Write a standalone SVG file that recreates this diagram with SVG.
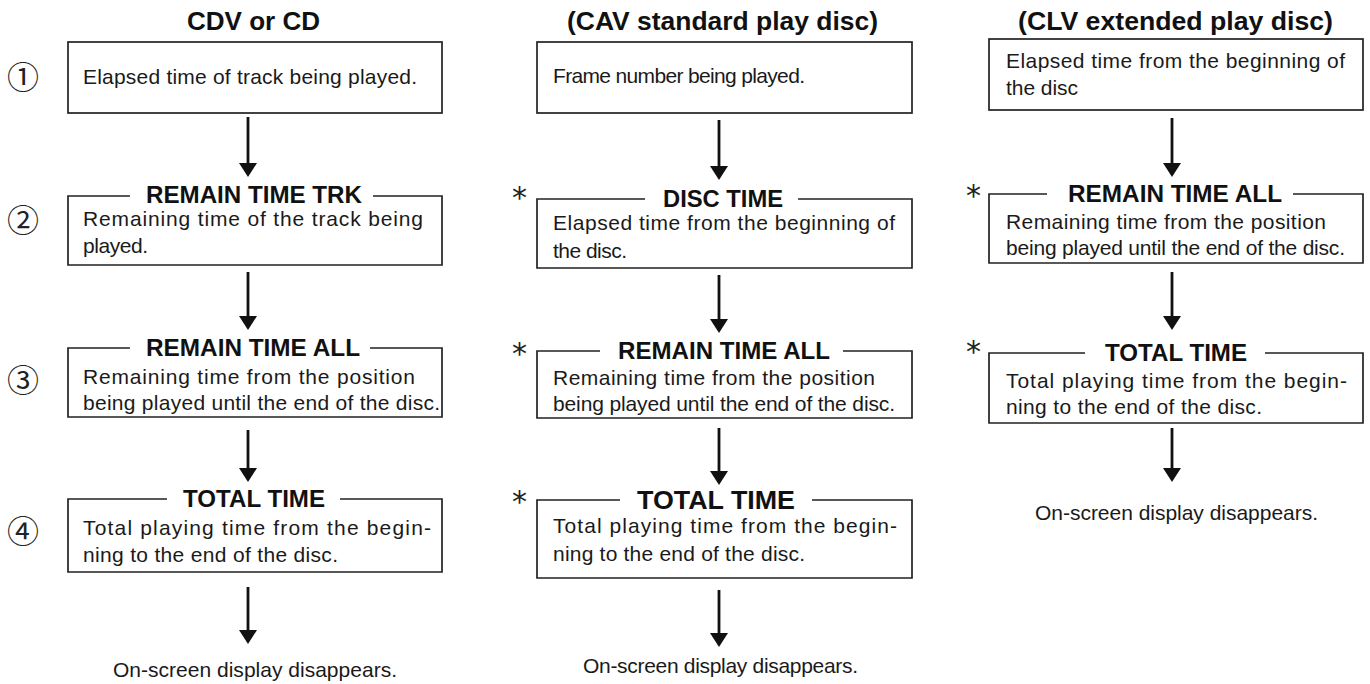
<svg xmlns="http://www.w3.org/2000/svg" width="1370" height="684" viewBox="0 0 1370 684">
<style>
.hdr{font-family:"Liberation Sans",Arial,sans-serif;font-weight:bold;font-size:25px;fill:#111}
.ttl{font-family:"Liberation Sans",Arial,sans-serif;font-weight:bold;font-size:24px;fill:#111}
.txt{font-family:"Liberation Sans",Arial,sans-serif;font-size:21px;fill:#1a1a1a}
.box{fill:none;stroke:#222;stroke-width:1.7}
.arr{stroke:#111;stroke-width:2.8;fill:none;marker-end:url(#ah)}
.ast{font-family:"DejaVu Sans",sans-serif;font-size:30px;fill:#222}
.num{font-family:"Noto Sans CJK JP","DejaVu Sans",sans-serif;font-size:32px;fill:#222}
</style>
<defs>
<marker id="ah" viewBox="0 0 14 18" refX="8" refY="9" markerWidth="14" markerHeight="18" markerUnits="userSpaceOnUse" orient="auto">
<path d="M0,0 L14,9 L0,18 Z" fill="#111"/>
</marker>
</defs>
<rect width="1370" height="684" fill="#fff"/>

<g id="headers">
<text class="hdr" x="187" y="30" textLength="133" lengthAdjust="spacingAndGlyphs">CDV or CD</text>
<text class="hdr" x="567" y="30" textLength="311" lengthAdjust="spacingAndGlyphs">(CAV standard play disc)</text>
<text class="hdr" x="1018" y="30" textLength="315" lengthAdjust="spacingAndGlyphs">(CLV extended play disc)</text>
</g>

<g id="steps">
<text class="num" x="23" y="89" text-anchor="middle">①</text>
<text class="num" x="23" y="232" text-anchor="middle">②</text>
<text class="num" x="23" y="392" text-anchor="middle">③</text>
<text class="num" x="23" y="543" text-anchor="middle">④</text>
</g>

<g id="connectors">
<line class="arr" x1="248" y1="117" x2="248" y2="171"/>
<line class="arr" x1="248" y1="272" x2="248" y2="324"/>
<line class="arr" x1="248" y1="430" x2="248" y2="476"/>
<line class="arr" x1="248" y1="587" x2="248" y2="638"/>
<line class="arr" x1="719" y1="120" x2="719" y2="174"/>
<line class="arr" x1="719" y1="275" x2="719" y2="327"/>
<line class="arr" x1="719" y1="428" x2="719" y2="479"/>
<line class="arr" x1="719" y1="590" x2="719" y2="641"/>
<line class="arr" x1="1172" y1="118" x2="1172" y2="171"/>
<line class="arr" x1="1172" y1="272" x2="1172" y2="324"/>
<line class="arr" x1="1172" y1="428" x2="1172" y2="476"/>
</g>

<!-- Column 1 -->
<g id="c1-elapsed">
<rect class="box" x="68" y="42" width="374" height="71"/>
<text class="txt" x="83" y="84" textLength="334">Elapsed time of track being played.</text>
</g>
<g id="c1-remain-trk">
<path class="box" d="M130,196 H68 V265 H442 V196 H373"/>
<text class="ttl" x="146" y="203" textLength="216" lengthAdjust="spacingAndGlyphs">REMAIN TIME TRK</text>
<text class="txt" x="83" y="226" textLength="340">Remaining time of the track being</text>
<text class="txt" x="83" y="253" textLength="65">played.</text>
</g>
<g id="c1-remain-all">
<path class="box" d="M130,348 H68 V417 H442 V348 H370"/>
<text class="ttl" x="146" y="356" textLength="214" lengthAdjust="spacingAndGlyphs">REMAIN TIME ALL</text>
<text class="txt" x="83" y="384" textLength="332">Remaining time from the position</text>
<text class="txt" x="83" y="410" textLength="357">being played until the end of the disc.</text>
</g>
<g id="c1-total">
<path class="box" d="M167,499 H68 V572 H442 V499 H340"/>
<text class="ttl" x="183" y="507" textLength="142" lengthAdjust="spacingAndGlyphs">TOTAL TIME</text>
<text class="txt" x="83" y="535" textLength="348">Total playing time from the begin-</text>
<text class="txt" x="83" y="562" textLength="255">ning to the end of the disc.</text>
</g>
<g id="c1-end">
<text class="txt" x="113" y="677" textLength="284">On-screen display disappears.</text>
</g>

<!-- Column 2 -->
<g id="c2-frame">
<rect class="box" x="537" y="42" width="375" height="71"/>
<text class="txt" x="553" y="83" textLength="252">Frame number being played.</text>
</g>
<g id="c2-disc-time">
<text class="ast" x="512" y="208">*</text>
<path class="box" d="M645,199 H537 V268 H912 V199 H798"/>
<text class="ttl" x="663" y="207" textLength="120" lengthAdjust="spacingAndGlyphs">DISC TIME</text>
<text class="txt" x="553" y="230" textLength="342">Elapsed time from the beginning of</text>
<text class="txt" x="553" y="258" textLength="74">the disc.</text>
</g>
<g id="c2-remain-all">
<text class="ast" x="512" y="364">*</text>
<path class="box" d="M600,351 H537 V418 H912 V351 H843"/>
<text class="ttl" x="618" y="359" textLength="212" lengthAdjust="spacingAndGlyphs">REMAIN TIME ALL</text>
<text class="txt" x="553" y="385" textLength="322">Remaining time from the position</text>
<text class="txt" x="553" y="411" textLength="342">being played until the end of the disc.</text>
</g>
<g id="c2-total">
<text class="ast" x="512" y="512">*</text>
<path class="box" d="M620,500 H537 V578 H912 V500 H812"/>
<text class="ttl" x="637" y="509" textLength="158" lengthAdjust="spacingAndGlyphs" style="font-size:25px">TOTAL TIME</text>
<text class="txt" x="553" y="533" textLength="344">Total playing time from the begin-</text>
<text class="txt" x="553" y="561" textLength="252">ning to the end of the disc.</text>
</g>
<g id="c2-end">
<text class="txt" x="583" y="673" textLength="275">On-screen display disappears.</text>
</g>

<!-- Column 3 -->
<g id="c3-elapsed">
<rect class="box" x="989" y="39" width="374" height="71"/>
<text class="txt" x="1006" y="68" textLength="339">Elapsed time from the beginning of</text>
<text class="txt" x="1006" y="95" textLength="72">the disc</text>
</g>
<g id="c3-remain-all">
<text class="ast" x="966" y="206">*</text>
<path class="box" d="M1047,194 H989 V263 H1363 V194 H1293"/>
<text class="ttl" x="1068" y="202" textLength="214" lengthAdjust="spacingAndGlyphs">REMAIN TIME ALL</text>
<text class="txt" x="1006" y="229" textLength="320">Remaining time from the position</text>
<text class="txt" x="1006" y="255" textLength="339">being played until the end of the disc.</text>
</g>
<g id="c3-total">
<text class="ast" x="966" y="362">*</text>
<path class="box" d="M1085,353 H989 V423 H1363 V353 H1265"/>
<text class="ttl" x="1105" y="361" textLength="142" lengthAdjust="spacingAndGlyphs">TOTAL TIME</text>
<text class="txt" x="1006" y="388" textLength="341">Total playing time from the begin-</text>
<text class="txt" x="1006" y="414" textLength="256">ning to the end of the disc.</text>
</g>
<g id="c3-end">
<text class="txt" x="1035" y="520" textLength="283">On-screen display disappears.</text>
</g>
</svg>
